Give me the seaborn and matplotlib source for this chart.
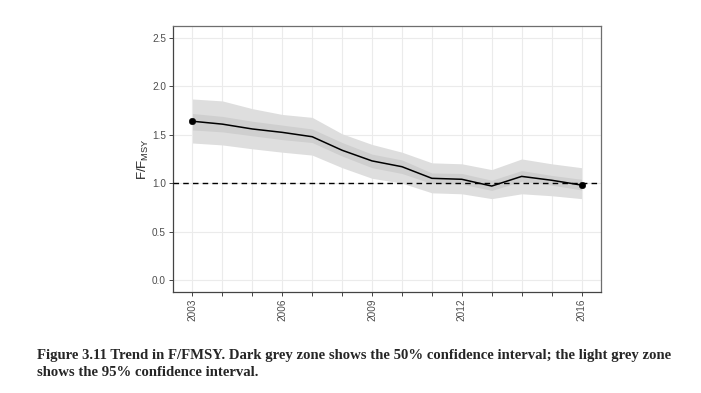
import numpy as np
import pandas as pd
import matplotlib
matplotlib.use('Agg')
import matplotlib.pyplot as plt
import seaborn as sns

# values
years = [2003, 2004, 2005, 2006, 2007, 2008, 2009, 2010, 2011, 2012, 2013, 2014, 2015, 2016]
median = [1.64, 1.61, 1.56, 1.525, 1.48, 1.34, 1.23, 1.17, 1.05, 1.04, 0.97, 1.07, 1.03, 0.98]
lo95 = [1.415, 1.395, 1.355, 1.32, 1.29, 1.16, 1.05, 1.00, 0.90, 0.89, 0.84, 0.89, 0.87, 0.84]
hi95 = [1.87, 1.85, 1.77, 1.71, 1.68, 1.51, 1.40, 1.32, 1.21, 1.20, 1.14, 1.25, 1.20, 1.16]
lo50 = [1.55, 1.53, 1.49, 1.45, 1.42, 1.28, 1.16, 1.10, 0.995, 0.99, 0.925, 1.02, 0.98, 0.93]
hi50 = [1.72, 1.69, 1.64, 1.60, 1.56, 1.42, 1.30, 1.24, 1.105, 1.10, 1.03, 1.13, 1.08, 1.04]
label_years = [2003, 2006, 2009, 2012, 2016]
y_ticks = [0.0, 0.5, 1.0, 1.5, 2.0, 2.5]

caption = ("Figure 3.11 Trend in F/FMSY. Dark grey zone shows the 50% confidence interval; the light grey zone\n"
           "shows the 95% confidence interval.")

df = pd.DataFrame({'year': years, 'f': median, 'lo95': lo95, 'hi95': hi95, 'lo50': lo50, 'hi50': hi50})
ends = df.iloc[[0, -1]]

sns.set_theme(style='white')
plt.rcParams['font.family'] = ['Liberation Sans', 'DejaVu Sans']
plt.rcParams['mathtext.fontset'] = 'custom'
plt.rcParams['mathtext.sf'] = 'Liberation Sans'
plt.rcParams['mathtext.rm'] = 'Liberation Sans'

fig = plt.figure(figsize=(7.01, 3.93), dpi=100)
ax = fig.add_axes([0.2468, 0.257, 0.6105, 0.677])

ax.fill_between(df['year'], df['lo95'], df['hi95'], color='#DEDEDE', lw=0, zorder=2)
ax.fill_between(df['year'], df['lo50'], df['hi50'], color='#CFCFCF', lw=0, zorder=3)
sns.lineplot(data=df, x='year', y='f', color='black', lw=1.1, ax=ax, zorder=4)
sns.scatterplot(data=ends, x='year', y='f', color='black', s=22, edgecolor='black', ax=ax, zorder=5)
ax.axhline(1.0, color='black', ls=(0, (4, 3)), lw=1.0, zorder=4)

ax.set_xlim(2002.35, 2016.65)
ax.set_ylim(-0.125, 2.625)
ax.set_xticks(label_years)
ax.set_xticklabels([str(y) for y in label_years], rotation=90)
ax.set_xticks(years, minor=True)
ax.set_yticks(y_ticks)
ax.set_yticklabels(['%.1f' % v for v in y_ticks])

ax.grid(True, which='both', color='#EBEBEB', lw=0.8, zorder=0)
ax.set_axisbelow(True)
for s in ax.spines.values():
    s.set_color('#6E6E6E')
    s.set_linewidth(0.9)
ax.spines['left'].set_color('#444444')
ax.spines['bottom'].set_color('#444444')

ax.tick_params(axis='both', which='both', direction='out', length=3, width=0.7,
               color='#444444', labelsize=7.2, labelcolor='#4D4D4D', pad=2)
ax.tick_params(axis='x', which='minor', labelbottom=False)
ax.tick_params(left=True, bottom=True)
ax.tick_params(axis='x', which='minor', bottom=True)

ax.set_xlabel('')
ax.set_ylabel(r'$\mathsf{F/F_{MSY}}$', fontsize=9.5, labelpad=1)

fig.text(37 / 701, 1 - 349 / 393, caption, family=['Liberation Serif'], fontweight='bold',
         fontsize=10.6, va='top', ha='left', linespacing=1.45)

fig.savefig('out.png', dpi=100)
